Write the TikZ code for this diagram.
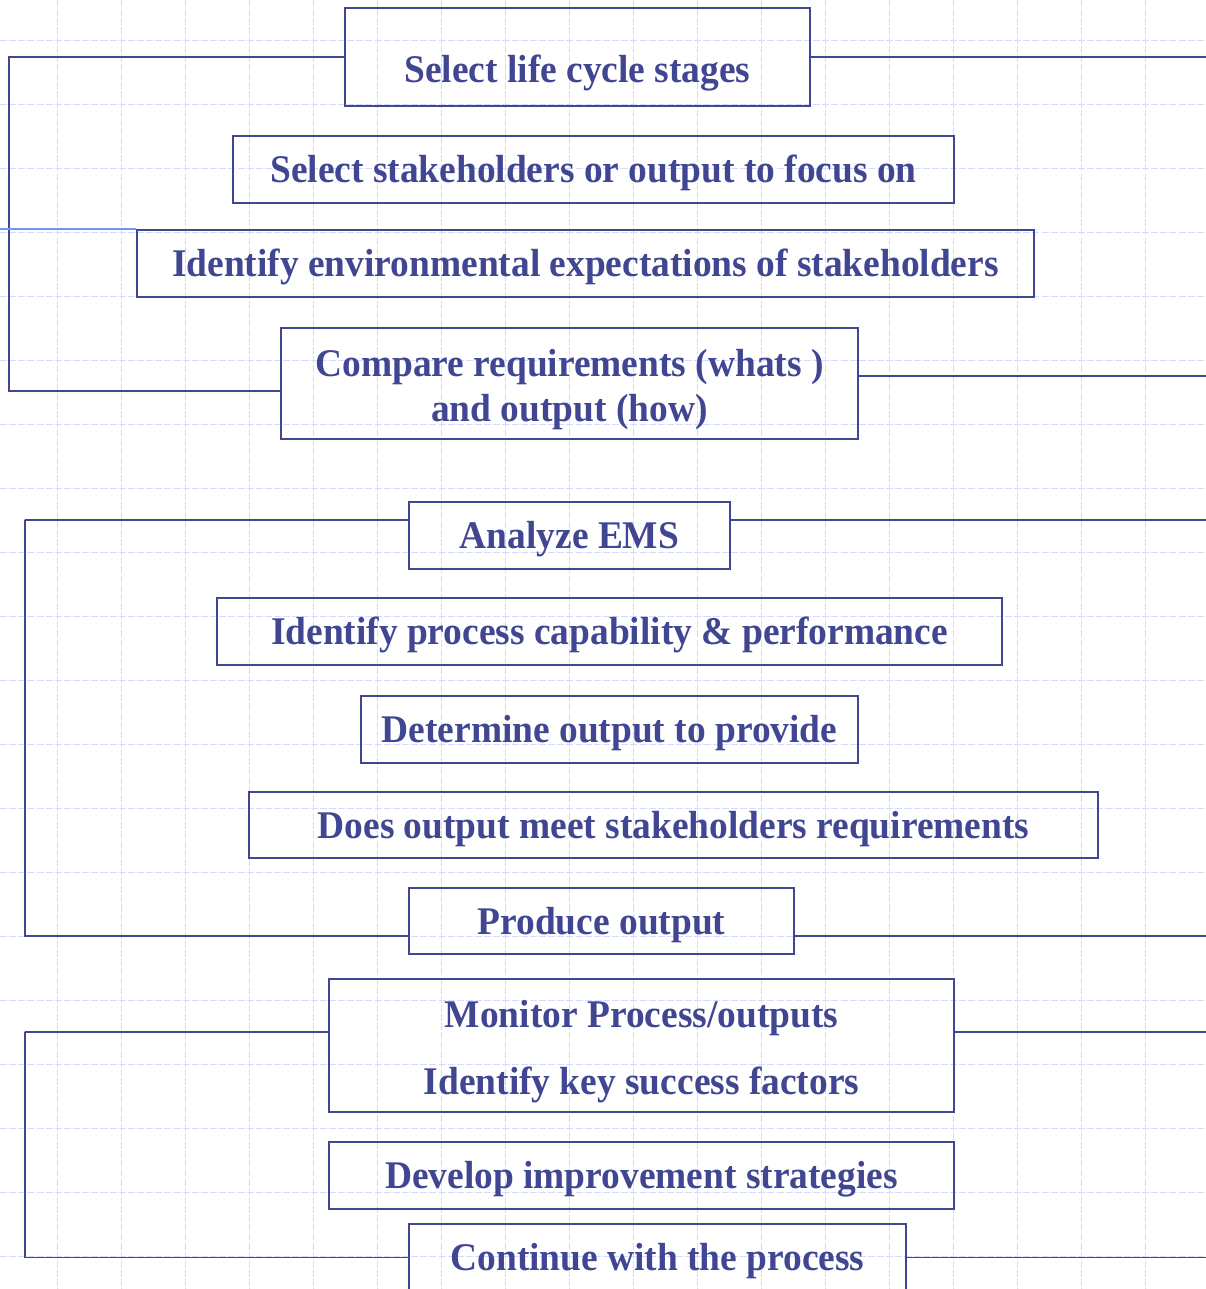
\documentclass[tikz,border=0pt]{standalone}
\usepackage{fontspec}
\setmainfont[FakeStretch=0.955]{Liberation Serif}
\definecolor{navy}{RGB}{64,70,146}
\definecolor{gridblue}{RGB}{212,220,253}
\definecolor{strayblue}{RGB}{110,150,245}
\def\lift{\rule{0pt}{22.5pt}}
\tikzset{
  stagebox/.style={draw=navy, line width=1.1pt, text=navy, inner sep=0pt,
    font=\fontsize{22.3pt}{25.5pt}\selectfont\bfseries},
  oneline/.style={stagebox, text height=14.8pt, text depth=0pt},
  link/.style={draw=navy, line width=0.9pt},
  stray/.style={draw=strayblue, line width=0.9pt},
  gridline/.style={draw=gridblue, line width=0.55pt, dash pattern=on 4pt off 1.2pt}
}

\begin{document}
\begin{tikzpicture}[x=0.02cm, y=-0.02cm]
  \useasboundingbox (0,0) rectangle (1206,1289);
  % background grid
  \foreach \gy in {40,104,...,1256}
    \draw[gridline] (0,\gy) -- (1206,\gy);
  \foreach \gx in {57,121,...,1145}
    \draw[gridline] (\gx,0) -- (\gx,1289);

  \coordinate (edgeL) at (0,0);
  \coordinate (rim) at (1206,0);
  \coordinate (post1) at (9,56);
  \coordinate (post2) at (25,520);
  \coordinate (post3) at (25,1032);

  % first loop
  \node[oneline, minimum width=9.30cm, minimum height=1.96cm, text height=28.6pt] (stages) at (577.5,57) {Select life cycle stages};
  \node[oneline, minimum width=14.42cm, minimum height=1.34cm] (stake) at (593.5,169.5) {Select stakeholders or output to focus on};
  \node[oneline, minimum width=17.94cm, minimum height=1.34cm] (expect) at (585.5,263.5) {Identify environmental expectations of stakeholders};
  \node[stagebox, align=center, minimum width=11.54cm, minimum height=2.22cm] (compare) at (569.5,383.5) {\lift Compare requirements (whats )\\and output (how)};

  % second loop
  \node[oneline, minimum width=6.42cm, minimum height=1.34cm] (ems) at (569.5,535.5) {Analyze EMS};
  \node[oneline, minimum width=15.70cm, minimum height=1.34cm] (capab) at (609.5,631.5) {Identify process capability \& performance};
  \node[oneline, minimum width=9.94cm, minimum height=1.34cm] (determine) at (609.5,729.5) {Determine output to provide};
  \node[oneline, minimum width=16.98cm, minimum height=1.32cm] (meets) at (673.5,825) {Does output meet stakeholders requirements};
  \node[oneline, minimum width=7.70cm, minimum height=1.32cm] (produce) at (601.5,921) {Produce output};

  % third loop
  \node[stagebox, align=center, minimum width=12.50cm, minimum height=2.66cm] (monitor) at (641.5,1045.5) {\lift Monitor Process/outputs\\[12.5pt]Identify key success factors};
  \node[oneline, minimum width=12.50cm, minimum height=1.34cm] (improve) at (641.5,1175.5) {Develop improvement strategies};
  \node[oneline, minimum width=9.94cm, minimum height=1.34cm] (cont) at (657.5,1257.5) {Continue with the process};

  % connectors
  \draw[link] (stages.west) -| (post1) |- ([yshift=-4.2pt]compare.west);
  \draw[link] (stages.east) -- (stages.east -| rim);
  \draw[stray] (expect.north west) -- (expect.north west -| edgeL);
  \draw[link] ([yshift=4.2pt]compare.east) -- ([yshift=4.2pt]compare.east -| rim);

  \draw[link] ([yshift=8.8pt]ems.west) -| (post2) |- ([yshift=-8.5pt]produce.west);
  \draw[link] ([yshift=8.8pt]ems.east) -- ([yshift=8.8pt]ems.east -| rim);
  \draw[link] ([yshift=-8.5pt]produce.east) -- ([yshift=-8.5pt]produce.east -| rim);

  \draw[link] ([yshift=7.6pt]monitor.west) -| (post3) |- (cont.west);
  \draw[link] ([yshift=7.6pt]monitor.east) -- ([yshift=7.6pt]monitor.east -| rim);
  \draw[link] (cont.east) -- (cont.east -| rim);
\end{tikzpicture}
\end{document}
